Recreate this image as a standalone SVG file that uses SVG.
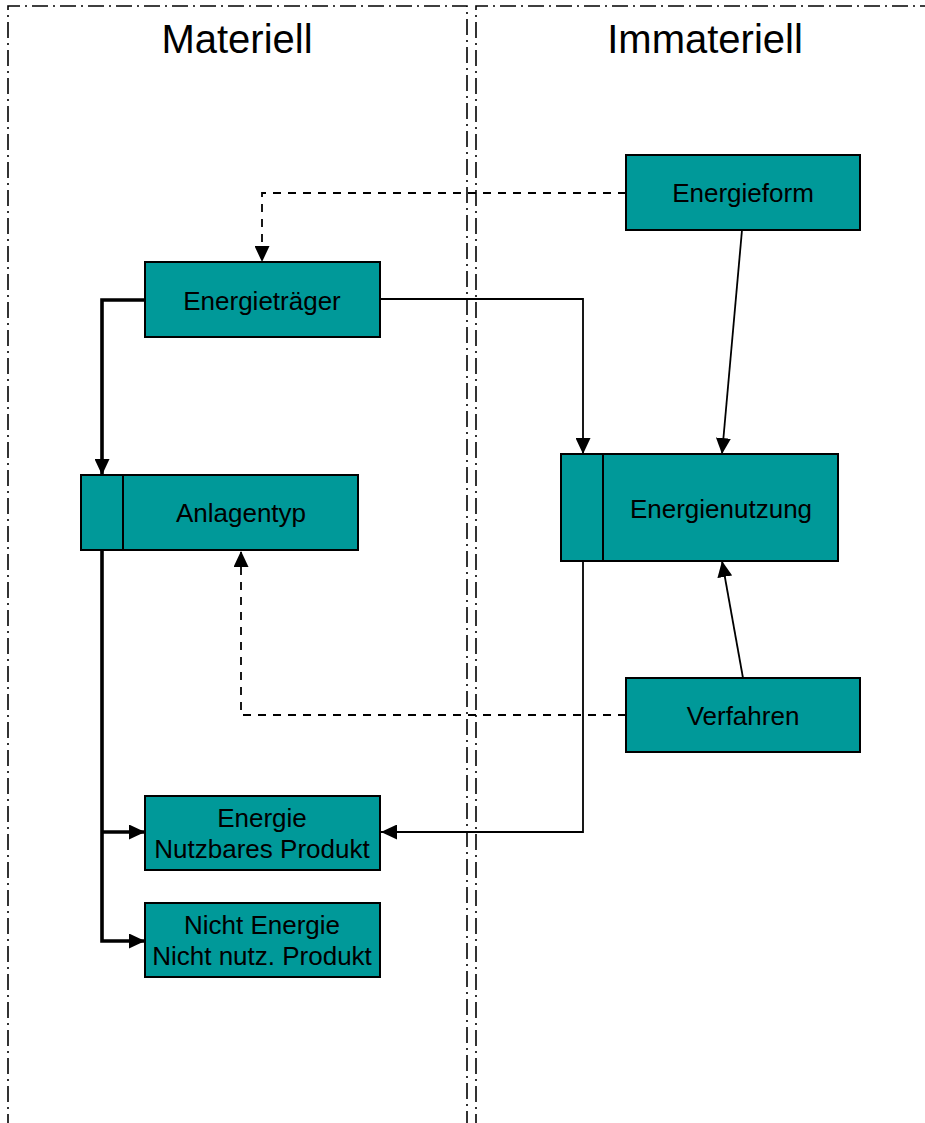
<svg xmlns="http://www.w3.org/2000/svg" width="925" height="1123" viewBox="0 0 925 1123">
<defs>
<style>
.lane{fill:none;stroke:#000;stroke-width:1.6;stroke-dasharray:16 5 2 5}
.title{font-family:"Liberation Sans",Arial,sans-serif;font-size:40px;fill:#000;text-anchor:middle}
.box{fill:#009999;stroke:#000;stroke-width:2}
.lbl{font-family:"Liberation Sans",Arial,sans-serif;font-size:26px;fill:#000;text-anchor:middle}
.thin{fill:none;stroke:#000;stroke-width:1.8}
.thick{fill:none;stroke:#000;stroke-width:3.6}
.dash{fill:none;stroke:#000;stroke-width:1.8;stroke-dasharray:8 7}
</style>
<marker id="ah" viewBox="0 0 16 15" refX="16" refY="7.5" markerWidth="16" markerHeight="15" markerUnits="userSpaceOnUse" orient="auto">
<path d="M0,0 L16,7.5 L0,15 Z" fill="#000"/>
</marker>
</defs>
<rect width="925" height="1123" fill="#fff"/>
<g id="lanes">
<path class="lane" d="M8,1130 V6 H467 V1130"/>
<path class="lane" d="M476,1130 V6 H935"/>
<text class="title" x="237" y="53">Materiell</text>
<text class="title" x="705" y="53">Immateriell</text>
</g>
<g id="connectors">
<path class="dash" d="M626,193 H262 V262" marker-end="url(#ah)"/>
<path class="thick" d="M145,300 H102 V475" marker-end="url(#ah)"/>
<path class="thin" d="M380,299 H583 V454" marker-end="url(#ah)"/>
<path class="thin" d="M742,230 L722,454" marker-end="url(#ah)"/>
<path class="thin" d="M743,678 L722,561" marker-end="url(#ah)"/>
<path class="dash" d="M626,715 H241 V551" marker-end="url(#ah)"/>
<path class="thin" d="M583,561 V832 H381" marker-end="url(#ah)"/>
<path class="thick" d="M102,550 V941 H145" marker-end="url(#ah)"/>
<path class="thick" d="M102,832 H145" marker-end="url(#ah)"/>
</g>
<g id="energieform">
<rect class="box" x="626" y="155" width="234" height="75"/>
<text class="lbl" x="743" y="202">Energieform</text>
</g>
<g id="energietraeger">
<rect class="box" x="145" y="262" width="235" height="75"/>
<text class="lbl" x="262" y="310">Energieträger</text>
</g>
<g id="anlagentyp">
<rect class="box" x="81" y="475" width="277" height="75"/>
<line x1="123" y1="475" x2="123" y2="550" stroke="#000" stroke-width="2"/>
<text class="lbl" x="241" y="522">Anlagentyp</text>
</g>
<g id="energienutzung">
<rect class="box" x="561" y="454" width="277" height="107"/>
<line x1="603" y1="454" x2="603" y2="561" stroke="#000" stroke-width="2"/>
<text class="lbl" x="721" y="518">Energienutzung</text>
</g>
<g id="verfahren">
<rect class="box" x="626" y="678" width="234" height="74"/>
<text class="lbl" x="743" y="725">Verfahren</text>
</g>
<g id="nutzbares">
<rect class="box" x="145" y="796" width="235" height="74"/>
<text class="lbl" x="262" y="827">Energie</text>
<text class="lbl" x="262" y="858">Nutzbares Produkt</text>
</g>
<g id="nichtnutz">
<rect class="box" x="145" y="903" width="235" height="74"/>
<text class="lbl" x="262" y="934">Nicht Energie</text>
<text class="lbl" x="262" y="965">Nicht nutz. Produkt</text>
</g>
</svg>
